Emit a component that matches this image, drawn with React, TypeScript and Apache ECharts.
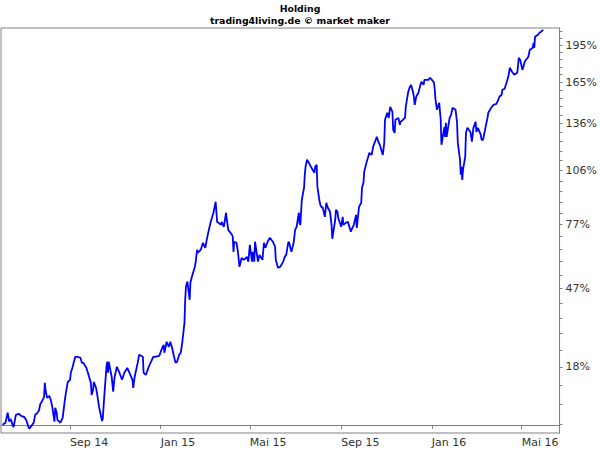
import React, { useEffect, useRef } from "react";
import * as echarts from "echarts";

const dates: string[] = [
  "2014-06-02","2014-06-06","2014-06-09","2014-06-11","2014-06-13","2014-06-16","2014-06-17","2014-06-20","2014-06-24","2014-06-27",
  "2014-07-01","2014-07-04","2014-07-07","2014-07-08","2014-07-11","2014-07-14","2014-07-16","2014-07-18","2014-07-21","2014-07-23",
  "2014-07-25","2014-07-28","2014-07-29","2014-07-30","2014-08-01","2014-08-04","2014-08-06","2014-08-08","2014-08-11","2014-08-12",
  "2014-08-14","2014-08-15","2014-08-19","2014-08-22","2014-08-25","2014-08-27","2014-08-29","2014-09-01","2014-09-02","2014-09-04",
  "2014-09-08","2014-09-11","2014-09-15","2014-09-17","2014-09-19","2014-09-23","2014-09-25","2014-09-29","2014-09-30","2014-10-02",
  "2014-10-03","2014-10-06","2014-10-08","2014-10-10","2014-10-14","2014-10-15","2014-10-17","2014-10-20","2014-10-21","2014-10-22",
  "2014-10-23","2014-10-27","2014-10-29","2014-10-31","2014-11-03","2014-11-06","2014-11-10","2014-11-13","2014-11-17","2014-11-20",
  "2014-11-24","2014-11-25","2014-11-27","2014-12-01","2014-12-03","2014-12-08","2014-12-09","2014-12-12","2014-12-16","2014-12-22",
  "2014-12-24","2014-12-30","2015-01-02","2015-01-05","2015-01-06","2015-01-09","2015-01-12","2015-01-14","2015-01-16","2015-01-19",
  "2015-01-21","2015-01-23","2015-01-26","2015-01-28","2015-01-30","2015-02-02","2015-02-03","2015-02-04","2015-02-06","2015-02-09",
  "2015-02-10","2015-02-12","2015-02-16","2015-02-17","2015-02-19","2015-02-20","2015-02-24","2015-02-27","2015-03-02","2015-03-04",
  "2015-03-06","2015-03-09","2015-03-11","2015-03-13","2015-03-16","2015-03-18","2015-03-20","2015-03-23","2015-03-24","2015-03-27",
  "2015-03-30","2015-03-31","2015-04-02","2015-04-07","2015-04-08","2015-04-09","2015-04-10","2015-04-13","2015-04-15","2015-04-17",
  "2015-04-20","2015-04-23","2015-04-27","2015-04-29","2015-05-01","2015-05-04","2015-05-05","2015-05-07","2015-05-08","2015-05-12",
  "2015-05-14","2015-05-18","2015-05-20","2015-05-22","2015-05-25","2015-05-28","2015-06-01","2015-06-04","2015-06-05","2015-06-08",
  "2015-06-11","2015-06-15","2015-06-17","2015-06-19","2015-06-22","2015-06-23","2015-06-26","2015-06-29","2015-07-01","2015-07-03",
  "2015-07-06","2015-07-07","2015-07-08","2015-07-10","2015-07-13","2015-07-14","2015-07-15","2015-07-17","2015-07-21","2015-07-23",
  "2015-07-27","2015-07-28","2015-07-30","2015-07-31","2015-08-03","2015-08-04","2015-08-06","2015-08-07","2015-08-10","2015-08-12",
  "2015-08-14","2015-08-17","2015-08-19","2015-08-20","2015-08-24","2015-08-25","2015-08-27","2015-08-28","2015-09-01","2015-09-03",
  "2015-09-04","2015-09-07","2015-09-10","2015-09-14","2015-09-16","2015-09-18","2015-09-21","2015-09-22","2015-09-25","2015-09-28",
  "2015-09-29","2015-10-01","2015-10-02","2015-10-05","2015-10-07","2015-10-09","2015-10-12","2015-10-14","2015-10-16","2015-10-19",
  "2015-10-21","2015-10-23","2015-10-27","2015-10-29","2015-10-30","2015-11-02","2015-11-04","2015-11-06","2015-11-09","2015-11-10",
  "2015-11-12","2015-11-13","2015-11-17","2015-11-19","2015-11-20","2015-11-23","2015-11-26","2015-11-27","2015-11-30","2015-12-02",
  "2015-12-04","2015-12-07","2015-12-08","2015-12-09","2015-12-11","2015-12-14","2015-12-16","2015-12-18","2015-12-21","2015-12-22",
  "2015-12-28","2015-12-29","2015-12-31","2016-01-04","2016-01-05","2016-01-06","2016-01-08","2016-01-11","2016-01-13","2016-01-14",
  "2016-01-18","2016-01-19","2016-01-20","2016-01-21","2016-01-25","2016-01-27","2016-01-29","2016-02-02","2016-02-04","2016-02-05",
  "2016-02-08","2016-02-09","2016-02-10","2016-02-11","2016-02-12","2016-02-15","2016-02-16","2016-02-18","2016-02-22","2016-02-24",
  "2016-02-26","2016-02-29","2016-03-01","2016-03-03","2016-03-07","2016-03-08","2016-03-10","2016-03-14","2016-03-16","2016-03-17",
  "2016-03-21","2016-03-22","2016-03-24","2016-03-28","2016-03-30","2016-04-01","2016-04-04","2016-04-05","2016-04-08","2016-04-11",
  "2016-04-13","2016-04-15","2016-04-18","2016-04-21","2016-04-25","2016-04-26","2016-04-27","2016-04-29","2016-05-02","2016-05-03",
  "2016-05-05","2016-05-09","2016-05-10","2016-05-12","2016-05-16","2016-05-17","2016-05-18","2016-05-19","2016-05-23","2016-05-25",
  "2016-05-27","2016-05-30"
];

// performance in percent
const values: number[] = [
  0, 0.6, 3.5, 0.9, 1.7, -0.3, -0.6, 2.9, 3.2, 2.6,
  2.3, 1.4, -0.6, -1.1, -0.3, 0.6, 2.9, 3.2, 4.1, 6.2,
  6.8, 8.3, 12.7, 10.5, 8.0, 8.6, 7.4, 5.3, 0.9, 5.0,
  3.5, 1.4, 0.6, 2.0, 7.4, 10.5, 13.0, 13.7, 16.0, 17.6,
  21.4, 21.4, 21.0, 19.3, 19.3, 17.6, 16.0, 12.7, 8.9, 10.5,
  13.0, 11.1, 8.3, 5.3, 1.1, 1.7, 8.3, 18.0, 19.7, 16.0,
  19.7, 14.7, 9.9, 14.7, 18.0, 16.3, 13.7, 16.0, 17.6, 16.0,
  13.7, 11.1, 14.7, 19.3, 22.1, 21.4, 16.0, 15.3, 18.0, 21.4,
  21.4, 21.7, 23.8, 25.6, 22.8, 26.7, 24.9, 26.7, 24.9, 21.4,
  19.3, 19.7, 22.1, 22.8, 26.3, 33.7, 42.8, 48.2, 50.4, 42.8,
  49.9, 52.5, 56.9, 58.7, 64.7, 63.3, 64.7, 68.0, 65.6, 69.4,
  72.9, 77.8, 80.4, 83.0, 88.8, 78.3, 77.8, 76.8, 78.3, 75.8,
  83.0, 79.4, 74.3, 71.9, 70.9, 63.7, 68.5, 68.0, 63.7, 56.9,
  60.9, 60.0, 61.4, 59.2, 67.0, 59.2, 63.7, 59.2, 68.5, 59.2,
  62.3, 60.0, 68.0, 65.6, 68.5, 70.4, 68.5, 66.1, 60.0, 56.4,
  56.9, 59.2, 61.4, 62.3, 68.5, 68.0, 63.7, 68.0, 74.3, 75.8,
  83.0, 77.8, 76.8, 89.9, 96.5, 103.9, 108.6, 112.8, 109.8, 108.0,
  105.1, 108.6, 109.8, 97.0, 88.8, 87.2, 85.6, 86.1, 80.9, 88.3,
  85.6, 83.5, 76.8, 69.9, 79.4, 84.5, 83.5, 80.4, 75.8, 80.9,
  76.8, 77.8, 78.3, 73.4, 75.3, 76.8, 81.9, 75.3, 86.1, 88.3,
  96.5, 99.3, 105.6, 111.0, 114.0, 117.1, 115.8, 120.8, 123.4, 127.2,
  124.1, 122.1, 115.8, 123.4, 138.5, 143.3, 139.8, 147.5, 144.0, 131.8,
  129.8, 138.5, 139.8, 135.1, 137.1, 138.5, 139.8, 147.5, 157.6, 161.3,
  163.5, 157.6, 154.0, 148.9, 154.7, 157.6, 162.0, 165.8, 163.5, 167.3,
  167.3, 168.8, 168.1, 165.0, 159.8, 152.5, 145.4, 150.4, 138.5, 122.1,
  133.7, 127.2, 136.5, 127.2, 139.8, 141.9, 146.8, 145.4, 136.5, 123.4,
  112.8, 103.9, 108.6, 101.0, 106.8, 114.7, 129.8, 133.1, 130.4, 124.1,
  133.1, 137.1, 130.4, 133.1, 128.5, 125.3, 125.3, 135.1, 139.8, 143.3,
  146.8, 147.5, 148.9, 149.6, 151.8, 154.7, 156.1, 159.8, 160.5, 165.8,
  169.6, 176.6, 173.5, 171.1, 172.7, 177.4, 184.6, 183.0, 175.0, 176.6,
  181.4, 184.6, 185.5, 191.2, 192.8, 197.0, 192.8, 202.1, 203.9, 205.6,
  206.5, 208.2
];

// y axis: labelled ticks are multiples of a fixed price step (in index units)
const yTickStep = 0.2948;
const yTickMultiples = [4, 5, 6, 7, 8, 9, 10];
const yTickLabels = ["18%", "47%", "77%", "106%", "136%", "165%", "195%"];
const yMinorPerStep = 5;
const yRangePct = [-2.3, 209.8];

const xTickDates = ["2014-09-01", "2015-01-01", "2015-05-01", "2015-09-01", "2016-01-01", "2016-05-01"];
const xTickLabels = ["Sep 14", "Jan 15", "Mai 15", "Sep 15", "Jan 16", "Mai 16"];
const xRange = ["2014-05-31", "2016-06-21"];

const ts = (s: string) => {
  const [y, m, d] = s.split("-").map(Number);
  return Date.UTC(y, m - 1, d);
};
const lg = (pct: number) => Math.log(1 + pct / 100);

const nearestLabel = (vals: number[], labels: string[], v: number) => {
  let best = 0;
  vals.forEach((t, i) => {
    if (Math.abs(t - v) < Math.abs(vals[best] - v)) best = i;
  });
  return labels[best];
};

export default function App() {
  const ref = useRef<HTMLDivElement>(null);

  useEffect(() => {
    if (!ref.current) return;
    const chart = echarts.init(ref.current, undefined, { renderer: "svg" });

    const yMin = lg(yRangePct[0]);
    const yMax = lg(yRangePct[1]);
    const majorVals = yTickMultiples.map((k) => Math.log(k * yTickStep));
    const minorVals: number[] = [];
    for (let m = 1; m < 80; m++) {
      const v = Math.log((m * yTickStep) / yMinorPerStep);
      if (v >= yMin && v <= yMax) minorVals.push(v);
    }
    const xTicks = xTickDates.map(ts);

    const font = "DejaVu Sans, Verdana, sans-serif";

    chart.setOption({
      animation: false,
      backgroundColor: "#ffffff",
      title: {
        text: "Holding",
        subtext: "trading4living.de \u00a9 market maker",
        left: 300,
        textAlign: "center",
        top: 2,
        padding: 0,
        itemGap: 0,
        textStyle: { fontFamily: font, fontSize: 9.33, fontWeight: "bold", color: "#000000", lineHeight: 12 },
        subtextStyle: { fontFamily: font, fontSize: 9.33, fontWeight: "bold", color: "#000000", lineHeight: 12 },
      },
      grid: {
        left: 1,
        right: 40,
        top: 28,
        bottom: 17,
        show: true,
        borderColor: "#808080",
        borderWidth: 1,
        backgroundColor: "transparent",
      },
      xAxis: {
        type: "value",
        min: ts(xRange[0]),
        max: ts(xRange[1]),
        axisLine: { show: true, lineStyle: { color: "#808080", width: 1 } },
        axisTick: { show: true, customValues: xTicks, length: 4, lineStyle: { color: "#808080" } },
        axisLabel: {
          customValues: xTicks,
          formatter: (v: number) => nearestLabel(xTicks, xTickLabels, v),
          align: "left",
          margin: 4,
          fontFamily: font,
          fontSize: 11,
          color: "#333333",
        },
        splitLine: { show: false },
      },
      yAxis: {
        type: "value",
        position: "right",
        min: yMin,
        max: yMax,
        axisLine: { show: true, lineStyle: { color: "#808080", width: 1 } },
        axisTick: { show: true, customValues: minorVals, length: 3, lineStyle: { color: "#808080" } },
        axisLabel: {
          customValues: majorVals,
          formatter: (v: number) => nearestLabel(majorVals, yTickLabels, v),
          margin: 6,
          fontFamily: font,
          fontSize: 11,
          color: "#333333",
        },
        splitLine: { show: false },
      },
      series: [
        {
          type: "line",
          showSymbol: false,
          symbol: "none",
          lineStyle: { color: "#0000ff", width: 1.8 },
          data: dates.map((d, i) => [ts(d), lg(values[i])]),
        },
      ],
    });

    return () => chart.dispose();
  }, []);

  return (
    <div
      ref={ref}
      style={{ position: "fixed", left: 0, top: 0, width: 600, height: 450, background: "#fff" }}
    />
  );
}
